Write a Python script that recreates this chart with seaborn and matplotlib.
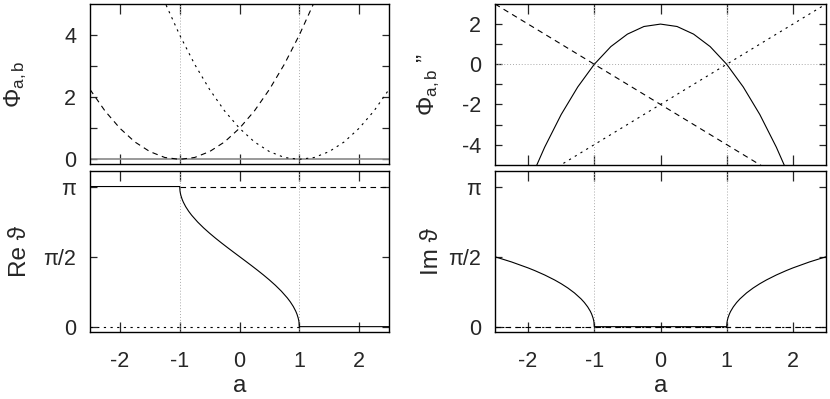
import numpy as np
import pandas as pd
import matplotlib
matplotlib.use('Agg')
import matplotlib.pyplot as plt
import seaborn as sns

# ── data ─────────────────────────────────────────────────────────────────
a_grid = [-2.5, -2.25, -2.0, -1.75, -1.5, -1.25, -1.0, -0.75, -0.5, -0.25, 0.0,
          0.25, 0.5, 0.75, 1.0, 1.25, 1.5, 1.75, 2.0, 2.25, 2.5]
a_ends = [-2.5, 2.5]

# top left: Phi_{a,b}
phi_dash = [2.25, 1.56, 1.0, 0.56, 0.25, 0.06, 0.0, 0.06, 0.25, 0.56, 1.0,
            1.56, 2.25, 3.06, 4.0, 5.06, 6.25, 7.56, 9.0, 10.56, 12.25]
phi_dot = [12.25, 10.56, 9.0, 7.56, 6.25, 5.06, 4.0, 3.06, 2.25, 1.56, 1.0,
           0.56, 0.25, 0.06, 0.0, 0.06, 0.25, 0.56, 1.0, 1.56, 2.25]
phi_solid = [0.0, 0.0]

# top right: Phi''_{a,b}
phi2_solid = [-10.5, -8.13, -6.0, -4.13, -2.5, -1.13, 0.0, 0.88, 1.5, 1.88, 2.0,
              1.88, 1.5, 0.88, 0.0, -1.13, -2.5, -4.13, -6.0, -8.13, -10.5]
phi2_dash = [3.0, -7.0]
phi2_dot = [-7.0, 3.0]

# bottom left: Re theta
re_a = [-2.5, -1.0, -0.995, -0.99, -0.98, -0.96, -0.94, -0.9, -0.85, -0.8, -0.7,
        -0.6, -0.5, -0.4, -0.3, -0.2, -0.1, 0.0, 0.1, 0.2, 0.3, 0.4, 0.5, 0.6,
        0.7, 0.8, 0.85, 0.9, 0.94, 0.96, 0.98, 0.99, 0.995, 1.0, 2.5]
re_solid = [3.1416, 3.1416, 3.0415, 3.0001, 2.9413, 2.8578, 2.7934, 2.6906, 2.5868,
            2.4981, 2.3462, 2.2143, 2.0944, 1.9823, 1.8755, 1.7722, 1.6710, 1.5708,
            1.4706, 1.3694, 1.2661, 1.1593, 1.0472, 0.9273, 0.7954, 0.6435, 0.5548,
            0.4510, 0.3482, 0.2838, 0.2003, 0.1415, 0.1001, 0.0, 0.0]
re_dash_a = [-1.0, 2.5]
re_dash = [3.1416, 3.1416]
re_dot_a = [-2.5, 1.0]
re_dot = [0.0, 0.0]

# bottom right: Im theta
im_a = [-2.5, -2.25, -2.0, -1.9, -1.75, -1.6, -1.5, -1.4, -1.3, -1.2, -1.15, -1.1,
        -1.06, -1.04, -1.02, -1.01, -1.005, -1.0, 1.0, 1.005, 1.01, 1.02, 1.04,
        1.06, 1.1, 1.15, 1.2, 1.3, 1.4, 1.5, 1.6, 1.75, 1.9, 2.0, 2.25, 2.5]
im_solid = [1.5668, 1.4506, 1.3170, 1.2572, 1.1588, 1.0470, 0.9624, 0.8670, 0.7564,
            0.6224, 0.5411, 0.4436, 0.3448, 0.2819, 0.1997, 0.1413, 0.0999, 0.0,
            0.0, 0.0999, 0.1413, 0.1997, 0.2819, 0.3448, 0.4436, 0.5411, 0.6224,
            0.7564, 0.8670, 0.9624, 1.0470, 1.1588, 1.2572, 1.3170, 1.4506, 1.5668]
im_dash = [0.0, 0.0]
im_dot = [0.0, 0.0]

x_ticks = [-2, -1, 0, 1, 2]
theta_ticks = [0, np.pi / 2, np.pi]
theta_labels = ['0', 'π/2', 'π']

# ── style ────────────────────────────────────────────────────────────────
sns.set_theme(style='ticks')
plt.rcParams['font.family'] = ['Liberation Sans', 'DejaVu Sans']
plt.rcParams['mathtext.fontset'] = 'custom'
plt.rcParams['mathtext.rm'] = 'Liberation Sans'
plt.rcParams['mathtext.it'] = 'Liberation Sans'
plt.rcParams['axes.unicode_minus'] = False

TICK_FS = 15.5
LABEL_FS = 17.5

W, H = 830, 399
fig = plt.figure(figsize=(W / 100, H / 100), dpi=100)


def box(left, top, right, bottom):
    return [left / W, 1 - bottom / H, (right - left) / W, (bottom - top) / H]


ax_tl = fig.add_axes(box(90, 4, 389, 164))
ax_bl = fig.add_axes(box(90, 171, 389, 332))
ax_tr = fig.add_axes(box(495, 4, 826, 164.7))
ax_br = fig.add_axes(box(495, 171, 826, 332))

LW = 0.8
DASH = (0, (5, 4))
DOT = (0, (2, 4))


def curve(ax, x, y, ls, color='black', lw=LW, z=3):
    df = pd.DataFrame({'a': x, 'v': y})
    sns.lineplot(data=df, x='a', y='v', ax=ax, color=color, lw=lw,
                 linestyle=ls, sort=False, estimator=None, zorder=z)


# top left
curve(ax_tl, a_ends, phi_solid, '-', color='#888888', lw=1.2, z=2)
curve(ax_tl, a_grid, phi_dash, DASH)
curve(ax_tl, a_grid, phi_dot, DOT)
ax_tl.set_ylim(-0.15, 5)
ax_tl.set_yticks([0, 1, 2, 3, 4])
ax_tl.set_yticklabels(['0', '', '2', '', '4'])
ax_tl.set_ylabel('$\\Phi_{\\rm a,b}$')

# top right
ax_tr.axhline(0, color='#aaaaaa', lw=0.7, ls=(0, (1, 2)), zorder=1)
curve(ax_tr, a_grid, phi2_solid, '-')
curve(ax_tr, a_ends, phi2_dash, DASH)
curve(ax_tr, a_ends, phi2_dot, DOT)
ax_tr.set_ylim(-5, 3)
ax_tr.set_yticks([-4, -3, -2, -1, 0, 1, 2])
ax_tr.set_yticklabels(['-4', '', '-2', '', '0', '', '2'])
ax_tr.set_ylabel('$\\Phi_{\\rm a,b}$ ”')

# bottom left
curve(ax_bl, re_dash_a, re_dash, DASH, z=2)
curve(ax_bl, re_dot_a, re_dot, DOT, z=2)
curve(ax_bl, re_a, re_solid, '-')
ax_bl.set_ylabel('Re ϑ')

# bottom right
curve(ax_br, a_ends, im_dash, DASH, z=2)
curve(ax_br, a_ends, im_dot, DOT, z=2)
curve(ax_br, im_a, im_solid, '-')
ax_br.set_ylabel('Im ϑ')

for ax in (ax_bl, ax_br):
    ax.set_ylim(-0.12, 3.49)
    ax.set_yticks(theta_ticks)
    ax.set_yticklabels(theta_labels)
    ax.set_xlabel('a', labelpad=2.5)

for ax in (ax_tl, ax_tr, ax_bl, ax_br):
    ax.set_xlim(-2.5, 2.5)
    ax.set_xticks(x_ticks)
    for xv in (-1, 1):
        ax.axvline(xv, color='#aaaaaa', lw=0.7, ls=(0, (1, 2)), zorder=1)
    for sp in ax.spines.values():
        sp.set_visible(True)
        sp.set_linewidth(1.0)
        sp.set_color('black')
    ax.tick_params(axis='x', direction='in', length=7, width=0.9,
                   top=True, bottom=True, pad=13.5, labelsize=TICK_FS)
    ax.tick_params(axis='y', direction='in', length=5, width=0.9,
                   left=True, right=True, pad=10, labelsize=TICK_FS)
    ax.yaxis.label.set_size(LABEL_FS)
    ax.xaxis.label.set_size(LABEL_FS)

for ax in (ax_tl, ax_tr):
    ax.set_xlabel('')
    ax.set_xticklabels([])

ax_tl.yaxis.set_label_coords(-0.204, 0.5)
ax_bl.yaxis.set_label_coords(-0.197, 0.5)
ax_tr.yaxis.set_label_coords(-0.16, 0.5)
ax_br.yaxis.set_label_coords(-0.157, 0.5)

fig.savefig('out.png', dpi=100)
